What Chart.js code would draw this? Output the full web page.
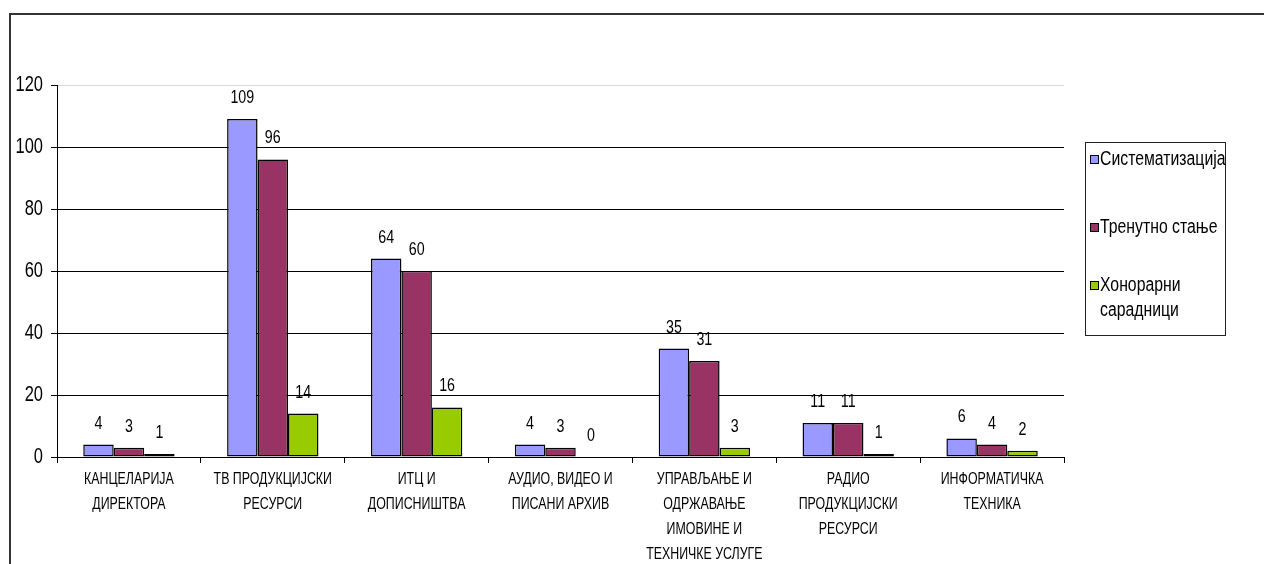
<!DOCTYPE html>
<html>
<head>
<meta charset="utf-8">
<script src="https://cdn.jsdelivr.net/npm/chart.js@4"></script>
<style>
  html, body { margin:0; padding:0; background:#fff; }
  #wrap { position:relative; width:1264px; height:564px; overflow:hidden; }
  #frame { position:absolute; left:9px; top:13px; width:1300px; height:600px; border-top:2px solid #333; border-left:2px solid #333; }
  canvas { position:absolute; left:0; top:0; }
  #legend { position:absolute; left:1085px; top:142px; width:139px; height:192px; border:1px solid #222; font-family:'Liberation Sans',Arial,sans-serif; font-size:19.5px; color:#000; }
  .sw { position:absolute; left:4px; width:7px; height:7px; border:1px solid #000; }
  .li { position:absolute; left:14px; white-space:nowrap; line-height:25px; transform:scaleX(0.81); transform-origin:0 50%; }
</style>
</head>
<body>
<div id="wrap">
  <div id="frame"></div>
  <canvas id="c" width="1264" height="564"></canvas>
  <div id="legend"></div>
</div>
<script>
const categories = [
  ['КАНЦЕЛАРИЈА', 'ДИРЕКТОРА'],
  ['ТВ ПРОДУКЦИЈСКИ', 'РЕСУРСИ'],
  ['ИТЦ И', 'ДОПИСНИШТВА'],
  ['АУДИО, ВИДЕО И', 'ПИСАНИ АРХИВ'],
  ['УПРАВЉАЊЕ И', 'ОДРЖАВАЊЕ', 'ИМОВИНЕ И', 'ТЕХНИЧКЕ УСЛУГЕ'],
  ['РАДИО', 'ПРОДУКЦИЈСКИ', 'РЕСУРСИ'],
  ['ИНФОРМАТИЧКА', 'ТЕХНИКА']
];
const seriesNames = ['Систематизација', 'Тренутно стање', 'Хонорарни сарадници'];
const sistematizacija = [4, 109, 64, 4, 35, 11, 6];
const trenutnoStanje = [3, 96, 60, 3, 31, 11, 4];
const honorarniSaradnici = [1, 14, 16, 0, 3, 1, 2];
const yTicks = [0, 20, 40, 60, 80, 100, 120];
const colors = ['#9999FF', '#993366', '#99CC00'];

const FONT = "'Liberation Sans',Arial,sans-serif";
const SQUEEZE = 0.75;

// condense all canvas text horizontally (the reference text is horizontally squeezed)
const canvas = document.getElementById('c');
const ctx2d = canvas.getContext('2d');
const origFill = ctx2d.fillText.bind(ctx2d);
const origMeasure = ctx2d.measureText.bind(ctx2d);
ctx2d.fillText = function (t, x, y, mw) {
  this.save();
  this.translate(x, y);
  this.scale(SQUEEZE, 1);
  origFill(t, 0, 0);
  this.restore();
};
ctx2d.measureText = function (t) {
  const m = origMeasure(t);
  return {
    width: m.width * SQUEEZE,
    actualBoundingBoxAscent: m.actualBoundingBoxAscent,
    actualBoundingBoxDescent: m.actualBoundingBoxDescent,
    actualBoundingBoxLeft: m.actualBoundingBoxLeft * SQUEEZE,
    actualBoundingBoxRight: m.actualBoundingBoxRight * SQUEEZE
  };
};

const dataLabels = {
  id: 'dataLabels',
  afterDatasetsDraw(chart) {
    const ctx = chart.ctx;
    ctx.save();
    ctx.fillStyle = '#000';
    ctx.font = '19px ' + FONT;
    ctx.textAlign = 'center';
    ctx.textBaseline = 'alphabetic';
    chart.data.datasets.forEach((ds, i) => {
      const meta = chart.getDatasetMeta(i);
      meta.data.forEach((bar, j) => {
        ctx.fillText(String(ds.data[j]), bar.x, bar.y - 16);
      });
    });
    ctx.restore();
  }
};

const datasets = [sistematizacija, trenutnoStanje, honorarniSaradnici].map((d, i) => ({
  label: seriesNames[i],
  data: d,
  backgroundColor: colors[i],
  borderColor: '#000',
  borderWidth: 1.5,
  borderSkipped: false,
  categoryPercentage: 0.635,
  barPercentage: 1.0
}));

new Chart(canvas, {
  type: 'bar',
  data: { labels: categories, datasets },
  options: {
    responsive: false,
    animation: false,
    devicePixelRatio: 1,
    layout: { padding: { top: 85, right: 200, bottom: 0, left: 0 } },
    plugins: { legend: { display: false }, tooltip: { enabled: false } },
    scales: {
      x: {
        grid: { display: true, drawOnChartArea: false, offset: true, tickLength: 6, color: '#000', tickColor: '#000' },
        border: { display: true, color: '#000', width: 1 },
        ticks: { font: { family: FONT, size: 16.5, lineHeight: 1.52 }, color: '#000', padding: 4, maxRotation: 0, autoSkip: false },
        afterFit(scale) { scale.height = 107; }
      },
      y: {
        min: 0, max: 120,
        afterBuildTicks(scale) { scale.ticks = yTicks.map(v => ({ value: v })); },
        grid: {
          color: (c) => (c.tick && c.tick.value === 120) ? '#d9d9d9' : '#000',
          tickColor: '#000',
          tickLength: 6
        },
        border: { display: true, color: '#000', width: 1 },
        ticks: { font: { family: FONT, size: 22 }, color: '#000', padding: 8 },
        afterFit(scale) { scale.width = 57; }
      }
    }
  },
  plugins: [dataLabels]
});

// legend
const lg = document.getElementById('legend');
const legendRows = [
  { lines: ['Систематизација'], top: 3 },
  { lines: ['Тренутно стање'], top: 71 },
  { lines: ['Хонорарни', 'сарадници'], top: 129 }
];
legendRows.forEach((r, i) => {
  const s = document.createElement('div');
  s.className = 'sw';
  s.style.background = colors[i];
  s.style.top = (r.top + 9) + 'px';
  lg.appendChild(s);
  r.lines.forEach((t, k) => {
    const d = document.createElement('div');
    d.className = 'li';
    d.style.top = (r.top + k * 25) + 'px';
    d.textContent = t;
    lg.appendChild(d);
  });
});
</script>
</body>
</html>
